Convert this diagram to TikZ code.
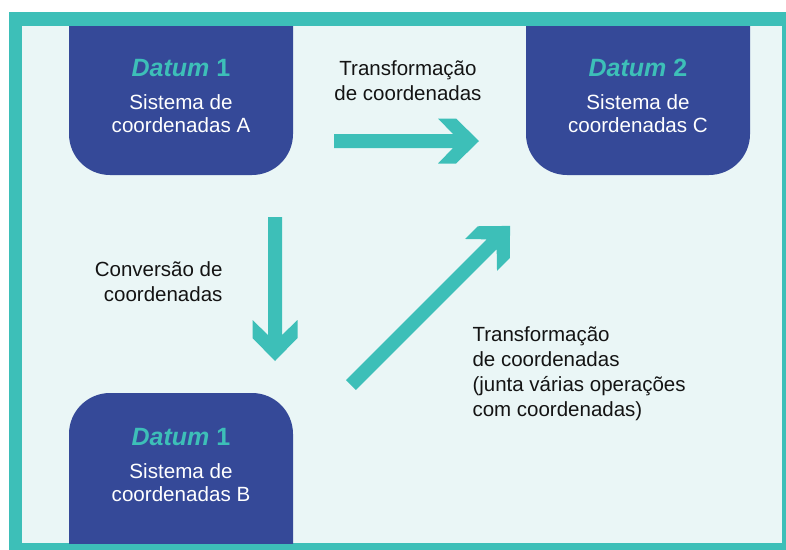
\documentclass[tikz,border=0pt]{standalone}
\usepackage{fontspec}
\setmainfont{Liberation Sans}
\usepackage{tikz}
\usetikzlibrary{calc}
\definecolor{datumblue}{RGB}{53, 73, 152}
\definecolor{datumteal}{RGB}{61, 191, 184}
\definecolor{paleteal}{RGB}{234, 246, 246}
\definecolor{labelgray}{RGB}{20, 20, 20}

\tikzset{
  datumbox/.style={fill=datumblue, rounded corners=41pt, minimum width=224pt, minimum height=200pt, inner sep=0pt},
  datumtext/.style={text=white, align=center, font=\fontsize{20.6}{23.5}\selectfont},
  steplabel/.style={text=labelgray, font=\fontsize{20.5}{25}\selectfont},
  fatarrow/.pic={
    \fill[datumteal] (0,7) -- (#1-26,7) -- (#1-41,22.5) -- (#1-23,22.5) -- (#1,0)
      -- (#1-23,-22.5) -- (#1-41,-22.5) -- (#1-26,-7) -- (0,-7) -- cycle;
  }
}
\newcommand{\datumname}[1]{{\fontsize{25}{28}\selectfont\bfseries\color{datumteal}\textit{Datum} #1}\\[9pt]}

\begin{document}
\begin{tikzpicture}[x=1pt, y=-1pt]
  \useasboundingbox (0,0) rectangle (786,549);
  % frame
  \fill[datumteal] (9,12) rectangle (800,560);
  \fill[paleteal] (22,26) rectangle (782,543);

  % boxes, cut flush by the frame
  \begin{scope}
    \clip (22,26) rectangle (782,543);
    \node[datumbox] (boxA) at (181,75) {};
    \node[datumbox] (boxC) at (638,75) {};
    \node[datumbox] (boxB) at (181,493) {};
  \end{scope}

  \node[datumtext] (txtA) at (181,96) {\datumname{1}Sistema de\\coordenadas A};
  \node[datumtext] (txtC) at (638,96) {\datumname{2}Sistema de\\coordenadas C};
  \node[datumtext] (txtB) at (181,465) {\datumname{1}Sistema de\\coordenadas B};

  % arrows
  \coordinate (transS) at (334,141);
  \coordinate (convS) at (275,217);
  \coordinate (multiS) at (351,385);
  \pic at (transS) {fatarrow=145};
  \pic[rotate=-90] at (convS) {fatarrow=144};
  \pic[rotate=45] at (multiS) {fatarrow=225};

  \node[steplabel, align=center] (lblTrans) at (408,81) {Transformação\\de coordenadas};
  \node[steplabel, align=right, anchor=east] (lblConv) at (226,282) {Conversão de\\coordenadas};
  \node[steplabel, align=left, anchor=west] (lblMulti) at (469,374) {Transformação\\de coordenadas\\(junta várias operações\\com coordenadas)};
\end{tikzpicture}
\end{document}
